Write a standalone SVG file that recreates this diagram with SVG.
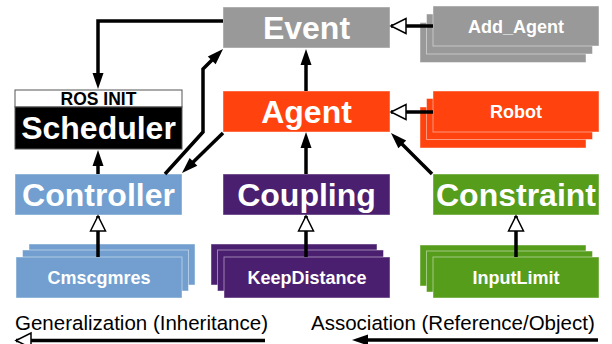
<svg xmlns="http://www.w3.org/2000/svg" width="612" height="344" viewBox="0 0 612 344">
<style>
.big{font-family:"Liberation Sans",Arial,sans-serif;font-weight:bold;font-size:32px;fill:#fff;text-anchor:middle}
.sm{font-family:"Liberation Sans",Arial,sans-serif;font-weight:bold;font-size:18px;fill:#fff;text-anchor:middle}
.leg{font-family:"Liberation Sans",Arial,sans-serif;font-size:20.5px;fill:#000}
.box{stroke:#fff;stroke-opacity:.45;stroke-width:1}
.gray{fill:#999999}.orange{fill:#ff420e}.blue{fill:#729fcf}.purple{fill:#4b1f6f}.green{fill:#579d1c}
.assoc{fill:none;stroke:#000;stroke-width:3.5}
.gen{fill:none;stroke:#000;stroke-width:3.5}
</style>
<defs>
<marker id="fa" markerUnits="userSpaceOnUse" markerWidth="16" markerHeight="11" refX="10" refY="5.5" orient="auto" overflow="visible"><path d="M0,0 L16,5.5 L0,11 z" fill="#000"/></marker>
<marker id="ha" markerUnits="userSpaceOnUse" markerWidth="16" markerHeight="16" refX="15" refY="7.5" orient="auto" overflow="visible"><path d="M0,0 L15,7.5 L0,15 z" fill="#fff" stroke="#000" stroke-width="1.5"/></marker>
</defs>

<g id="event"><rect class="box gray" x="223" y="7" width="167" height="41"/><text class="big" x="306.5" y="39">Event</text></g>
<g id="agent"><rect class="box orange" x="223" y="91" width="167" height="41"/><text class="big" x="306.5" y="122.5">Agent</text></g>
<g id="scheduler"><rect x="15" y="90" width="167" height="17" fill="#fff" stroke="#555" stroke-width="1"/><rect x="15" y="107" width="167" height="42" fill="#000" stroke="#555" stroke-width="1"/><text x="98.5" y="105" style="font-family:'Liberation Sans',Arial,sans-serif;font-weight:bold;font-size:17.5px;fill:#000;text-anchor:middle">ROS INIT</text><text class="big" x="98.5" y="138.5">Scheduler</text></g>
<g id="controller"><rect class="box blue" x="15" y="174" width="167" height="41"/><text class="big" x="98.5" y="205.5">Controller</text></g>
<g id="coupling"><rect class="box purple" x="223" y="174" width="167" height="41"/><text class="big" x="306.5" y="205.5">Coupling</text></g>
<g id="constraint"><rect class="box green" x="433" y="174" width="166" height="41"/><text class="big" x="516" y="205.5">Constraint</text></g>

<g id="add_agent"><rect class="box gray" x="420" y="22.5" width="166" height="40"/><rect class="box gray" x="426.5" y="14" width="166" height="40"/><rect class="box gray" x="433" y="6" width="166" height="40"/><text class="sm" x="516" y="32.5">Add_Agent</text></g>
<g id="robot"><rect class="box orange" x="420" y="107" width="166" height="41"/><rect class="box orange" x="426.5" y="98.5" width="166" height="41"/><rect class="box orange" x="433" y="91" width="166" height="41"/><text class="sm" x="516" y="118">Robot</text></g>
<g id="cmscgmres"><rect class="box blue" x="29" y="244" width="166" height="41"/><rect class="box blue" x="22.5" y="250" width="166" height="41"/><rect class="box blue" x="16" y="257" width="166" height="41"/><text class="sm" x="99" y="284">Cmscgmres</text></g>
<g id="keepdistance"><rect class="box purple" x="211" y="244" width="166" height="41"/><rect class="box purple" x="217.5" y="250" width="166" height="41"/><rect class="box purple" x="224" y="257" width="166" height="41"/><text class="sm" x="307" y="284">KeepDistance</text></g>
<g id="inputlimit"><rect class="box green" x="420" y="245" width="166" height="41"/><rect class="box green" x="426.5" y="251" width="166" height="41"/><rect class="box green" x="433" y="257" width="166" height="41"/><text class="sm" x="516" y="284">InputLimit</text></g>

<g id="connectors">
<path class="assoc" d="M223,21 H98 V83" marker-end="url(#fa)"/>
<path class="assoc" d="M98,174 V156" marker-end="url(#fa)"/>
<path class="assoc" d="M306,91 V55" marker-end="url(#fa)"/>
<path class="assoc" d="M306,174 V138" marker-end="url(#fa)"/>
<path class="assoc" d="M165,174 L203,132 V69 L218.8,53.2" marker-end="url(#fa)"/>
<path class="assoc" d="M223,133 L186.3,168.8" marker-end="url(#fa)"/>
<path class="assoc" d="M432,174 L395.2,137.2" marker-end="url(#fa)"/>
<path class="gen" d="M433,26 H391" marker-end="url(#ha)"/>
<path class="gen" d="M433,112 H391" marker-end="url(#ha)"/>
<path class="gen" d="M98,257 V216" marker-end="url(#ha)"/>
<path class="gen" d="M306,257 V216" marker-end="url(#ha)"/>
<path class="gen" d="M516,257 V216" marker-end="url(#ha)"/>
<path class="gen" d="M265,340.5 H16" marker-end="url(#ha)"/>
<path class="assoc" d="M598,340 H358" marker-end="url(#fa)"/>
</g>

<text class="leg" x="15" y="330">Generalization (Inheritance)</text>
<text class="leg" x="311" y="330">Association (Reference/Object)</text>
</svg>
